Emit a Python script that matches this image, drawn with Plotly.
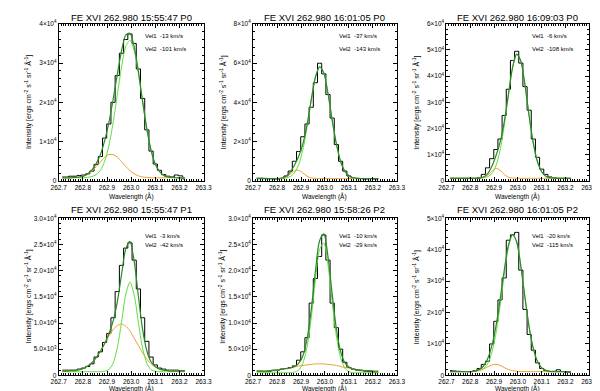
import plotly.graph_objects as go

# wavelength bin centres (A), shared by all six spectra
wavelength = [262.7150, 262.7325, 262.7500, 262.7675, 262.7850, 262.8025, 262.8200, 262.8375,
              262.8550, 262.8725, 262.8900, 262.9075, 262.9250, 262.9425, 262.9600, 262.9775,
              262.9950, 263.0125, 263.0300, 263.0475, 263.0650, 263.0825, 263.1000, 263.1175,
              263.1350, 263.1525, 263.1700, 263.1875, 263.2050, 263.2225]

# intensities in units of 1e4 ergs cm-2 s-1 sr-1 A-1
# panel 1 : 15:55:47 P0
hist_p1 = [0.10, 0.10, 0.12, 0.12, 0.14, 0.15, 0.18, 0.25, 0.42, 0.62, 1.09, 1.45, 2.00, 2.68, 3.25,
           3.60, 3.74, 3.50, 2.85, 2.10, 1.30, 0.76, 0.43, 0.27, 0.16, 0.12, 0.10, 0.15, 0.13, 0.05]
fit_p1 = [0.08, 0.08, 0.08, 0.09, 0.10, 0.12, 0.18, 0.28, 0.44, 0.67, 1.02, 1.48, 2.06, 2.71, 3.30,
          3.71, 3.76, 3.42, 2.79, 2.03, 1.33, 0.78, 0.43, 0.24, 0.14, 0.10, 0.09, 0.08, 0.08, 0.08]
comp1_p1 = [0.08, 0.08, 0.08, 0.08, 0.08, 0.08, 0.09, 0.11, 0.16, 0.27, 0.50, 0.89, 1.47, 2.18, 2.89,
            3.42, 3.58, 3.32, 2.74, 2.01, 1.32, 0.78, 0.43, 0.24, 0.14, 0.10, 0.09, 0.08, 0.08, 0.08]
comp2_p1 = [0.08, 0.08, 0.08, 0.09, 0.10, 0.12, 0.17, 0.25, 0.36, 0.48, 0.60, 0.67, 0.67, 0.61, 0.49,
            0.37, 0.26, 0.18, 0.13, 0.10, 0.09, 0.08, 0.08, 0.08, 0.08, 0.08, 0.08, 0.08, 0.08, 0.08]

# panel 2 : 16:01:05 P0
hist_p2 = [0.14, 0.14, 0.13, 0.12, 0.10, 0.10, 0.12, 0.25, 0.50, 1.00, 1.50, 2.25, 2.90, 3.75, 5.00,
           5.99, 5.45, 4.40, 3.20, 1.85, 1.00, 0.50, 0.25, 0.15, 0.13, 0.12, 0.10, 0.12, 0.10, 0.10]
fit_p2 = [0.12, 0.12, 0.12, 0.12, 0.12, 0.12, 0.15, 0.24, 0.45, 0.80, 1.24, 1.87, 2.85, 4.12, 5.28,
          5.81, 5.50, 4.45, 3.10, 1.88, 1.00, 0.50, 0.26, 0.16, 0.13, 0.12, 0.12, 0.12, 0.12, 0.12]
comp1_p2 = [0.12, 0.12, 0.12, 0.12, 0.12, 0.12, 0.13, 0.15, 0.22, 0.41, 0.82, 1.58, 2.73, 4.09, 5.27,
            5.81, 5.50, 4.45, 3.10, 1.88, 1.00, 0.50, 0.26, 0.16, 0.13, 0.12, 0.12, 0.12, 0.12, 0.12]
comp2_p2 = [0.12, 0.12, 0.12, 0.12, 0.12, 0.12, 0.14, 0.21, 0.35, 0.51, 0.54, 0.41, 0.24, 0.15, 0.13,
            0.12, 0.12, 0.12, 0.12, 0.12, 0.12, 0.12, 0.12, 0.12, 0.12, 0.12, 0.12, 0.12, 0.12, 0.12]

# panel 3 : 16:09:03 P0
hist_p3 = [0.10, 0.10, 0.10, 0.10, 0.10, 0.10, 0.10, 0.12, 0.25, 0.50, 0.85, 1.20, 1.60, 2.50, 3.50,
           4.60, 4.95, 4.50, 3.60, 2.70, 1.60, 0.90, 0.45, 0.25, 0.15, 0.12, 0.10, 0.10, 0.10, 0.10]
fit_p3 = [0.10, 0.10, 0.10, 0.10, 0.10, 0.10, 0.10, 0.10, 0.15, 0.27, 0.54, 0.95, 1.46, 2.24, 3.29,
          4.32, 4.84, 4.57, 3.65, 2.47, 1.43, 0.73, 0.35, 0.18, 0.12, 0.11, 0.10, 0.10, 0.10, 0.10]
comp1_p3 = [0.10, 0.10, 0.10, 0.10, 0.10, 0.10, 0.10, 0.10, 0.12, 0.16, 0.27, 0.57, 1.15, 2.09, 3.25,
            4.31, 4.84, 4.57, 3.65, 2.47, 1.43, 0.73, 0.35, 0.18, 0.12, 0.11, 0.10, 0.10, 0.10, 0.10]
comp2_p3 = [0.10, 0.10, 0.10, 0.10, 0.10, 0.10, 0.10, 0.10, 0.13, 0.21, 0.37, 0.48, 0.41, 0.25, 0.14,
            0.11, 0.10, 0.10, 0.10, 0.10, 0.10, 0.10, 0.10, 0.10, 0.10, 0.10, 0.10, 0.10, 0.10, 0.10]

# panel 4 : 15:55:47 P1
hist_p4 = [0.10, 0.10, 0.10, 0.10, 0.12, 0.14, 0.17, 0.22, 0.35, 0.45, 0.63, 0.80, 1.10, 1.60, 2.10,
           2.43, 2.53, 2.20, 1.65, 1.10, 0.65, 0.35, 0.20, 0.14, 0.12, 0.10, 0.10, 0.10, 0.09, 0.09]
fit_p4 = [0.08, 0.08, 0.09, 0.09, 0.11, 0.13, 0.18, 0.24, 0.34, 0.46, 0.61, 0.79, 1.03, 1.40, 1.92,
          2.41, 2.56, 2.18, 1.51, 0.88, 0.47, 0.26, 0.17, 0.12, 0.10, 0.09, 0.08, 0.08, 0.08, 0.08]
comp1_p4 = [0.07, 0.07, 0.07, 0.07, 0.07, 0.07, 0.07, 0.07, 0.07, 0.07, 0.08, 0.11, 0.23, 0.52, 1.01,
            1.54, 1.78, 1.54, 1.01, 0.52, 0.23, 0.11, 0.08, 0.07, 0.07, 0.07, 0.07, 0.07, 0.07, 0.07]
comp2_p4 = [0.08, 0.08, 0.09, 0.09, 0.11, 0.13, 0.18, 0.24, 0.34, 0.46, 0.60, 0.75, 0.87, 0.95, 0.98,
            0.94, 0.85, 0.71, 0.57, 0.43, 0.31, 0.22, 0.16, 0.12, 0.10, 0.09, 0.08, 0.08, 0.08, 0.08]

# panel 5 : 15:58:26 P2
hist_p5 = [0.08, 0.08, 0.07, 0.08, 0.09, 0.10, 0.12, 0.13, 0.15, 0.18, 0.29, 0.45, 0.72, 1.38, 1.85,
           2.27, 2.68, 2.20, 1.38, 0.91, 0.50, 0.25, 0.15, 0.12, 0.10, 0.09, 0.08, 0.07, 0.06, 0.06]
fit_p5 = [0.08, 0.08, 0.08, 0.09, 0.10, 0.10, 0.12, 0.13, 0.14, 0.17, 0.23, 0.37, 0.69, 1.25, 1.99,
          2.57, 2.70, 2.27, 1.55, 0.89, 0.46, 0.24, 0.16, 0.12, 0.11, 0.10, 0.09, 0.09, 0.08, 0.08]
comp1_p5 = [0.05, 0.05, 0.05, 0.05, 0.05, 0.05, 0.05, 0.05, 0.05, 0.06, 0.10, 0.23, 0.54, 1.09, 1.82,
            2.40, 2.53, 2.11, 1.40, 0.75, 0.34, 0.14, 0.07, 0.05, 0.05, 0.05, 0.05, 0.05, 0.05, 0.05]
comp2_p5 = [0.08, 0.08, 0.08, 0.09, 0.10, 0.10, 0.12, 0.13, 0.14, 0.16, 0.18, 0.19, 0.20, 0.21, 0.22,
            0.22, 0.22, 0.21, 0.20, 0.19, 0.17, 0.15, 0.14, 0.12, 0.11, 0.10, 0.09, 0.09, 0.08, 0.08]

# panel 6 : 16:01:05 P2
hist_p6 = [0.15, 0.14, 0.13, 0.12, 0.12, 0.12, 0.15, 0.22, 0.35, 0.45, 1.00, 1.72, 2.40, 3.10, 4.30,
           4.47, 4.55, 3.35, 2.10, 1.30, 0.80, 0.40, 0.22, 0.15, 0.12, 0.13, 0.18, 0.12, 0.10, 0.10]
fit_p6 = [0.12, 0.12, 0.12, 0.12, 0.12, 0.12, 0.14, 0.19, 0.29, 0.52, 0.92, 1.54, 2.39, 3.33, 4.13,
          4.49, 4.25, 3.47, 2.47, 1.53, 0.85, 0.44, 0.24, 0.16, 0.13, 0.12, 0.12, 0.12, 0.12, 0.12]
comp1_p6 = [0.12, 0.12, 0.12, 0.12, 0.12, 0.12, 0.13, 0.15, 0.21, 0.37, 0.71, 1.31, 2.19, 3.20, 4.06,
            4.46, 4.24, 3.47, 2.47, 1.53, 0.85, 0.44, 0.24, 0.16, 0.13, 0.12, 0.12, 0.12, 0.12, 0.12]
comp2_p6 = [0.12, 0.12, 0.12, 0.12, 0.12, 0.12, 0.13, 0.16, 0.20, 0.27, 0.33, 0.35, 0.32, 0.25, 0.19,
            0.15, 0.13, 0.12, 0.12, 0.12, 0.12, 0.12, 0.12, 0.12, 0.12, 0.12, 0.12, 0.12, 0.12, 0.12]

titles = ["FE XVI 262.980 15:55:47 P0", "FE XVI 262.980 16:01:05 P0", "FE XVI 262.980 16:09:03 P0",
          "FE XVI 262.980 15:55:47 P1", "FE XVI 262.980 15:58:26 P2", "FE XVI 262.980 16:01:05 P2"]
vel1 = ["-13", "-37", "-6", "-3", "-10", "-20"]
vel2 = ["-101", "-143", "-108", "-42", "-29", "-115"]

x_ticks = [262.7, 262.8, 262.9, 263.0, 263.1, 263.2, 263.3]
x_ticktext = ["262.7", "262.8", "262.9", "263.0", "263.1", "263.2", "263.3"]

yt_1e4_4 = [0, 1, 2, 3, 4]
yt_1e4_8 = [0, 2, 4, 6, 8]
yt_1e4_6 = [0, 1, 2, 3, 4, 5, 6]
yt_half_3 = [0, 0.5, 1.0, 1.5, 2.0, 2.5, 3.0]
yt_1e4_5 = [0, 1, 2, 3, 4, 5]
txt_int = lambda v: "0" if v == 0 else f"{v}×10<sup>4</sup>"
txt_half = ["0", "5.0×10<sup>3</sup>", "1.0×10<sup>4</sup>", "1.5×10<sup>4</sup>",
            "2.0×10<sup>4</sup>", "2.5×10<sup>4</sup>", "3.0×10<sup>4</sup>"]

panels = [
    (hist_p1, fit_p1, comp1_p1, comp2_p1, yt_1e4_4, [txt_int(v) for v in yt_1e4_4], 4, 0.2),
    (hist_p2, fit_p2, comp1_p2, comp2_p2, yt_1e4_8, [txt_int(v) for v in yt_1e4_8], 8, 0.4),
    (hist_p3, fit_p3, comp1_p3, comp2_p3, yt_1e4_6, [txt_int(v) for v in yt_1e4_6], 6, 0.2),
    (hist_p4, fit_p4, comp1_p4, comp2_p4, yt_half_3, txt_half, 3, 0.1),
    (hist_p5, fit_p5, comp1_p5, comp2_p5, yt_half_3, txt_half, 3, 0.1),
    (hist_p6, fit_p6, comp1_p6, comp2_p6, yt_1e4_5, [txt_int(v) for v in yt_1e4_5], 5, 0.2),
]

W, H = 600, 391
col_px = [(44, 193), (244, 392), (443, 590)]
row_px = [(12, 172), (210, 370)]
FONT = "Liberation Sans, Arial, sans-serif"

fig = go.Figure()
annotations = []
layout = dict(width=W, height=H, margin=dict(l=0, r=0, t=0, b=0),
              paper_bgcolor="white", plot_bgcolor="white", showlegend=False,
              font=dict(family=FONT, color="black", size=7))

for k, (hist, fit, c1, c2, ytv, ytt, ymax, yminor) in enumerate(panels):
    n = k + 1
    row, col = divmod(k, 3)
    xa = "x" if n == 1 else f"x{n}"
    ya = "y" if n == 1 else f"y{n}"

    fig.add_trace(go.Scatter(x=wavelength, y=hist, mode="lines", xaxis=xa, yaxis=ya,
                             line=dict(color="black", width=1, shape="hvh")))
    fig.add_trace(go.Scatter(x=wavelength, y=c1, mode="lines", xaxis=xa, yaxis=ya,
                             line=dict(color="#5ee03a", width=1, shape="spline", smoothing=0.8)))
    fig.add_trace(go.Scatter(x=wavelength, y=c2, mode="lines", xaxis=xa, yaxis=ya,
                             line=dict(color="#f0a030", width=1, shape="spline", smoothing=0.8)))
    fig.add_trace(go.Scatter(x=wavelength, y=fit, mode="lines", xaxis=xa, yaxis=ya,
                             line=dict(color="#2a8a2a", width=1.2, shape="spline", smoothing=0.8)))

    x0, x1 = col_px[col]
    y0, y1 = row_px[row]
    xdom = [x0 / W, x1 / W]
    ydom = [1 - y1 / H, 1 - y0 / H]

    layout[f"xaxis{'' if n == 1 else n}"] = dict(
        domain=xdom, anchor=ya, range=[262.7, 263.3], tickvals=x_ticks, ticktext=x_ticktext,
        ticks="inside", ticklen=4, tickwidth=0.8, tickcolor="black",
        showline=True, linecolor="black", linewidth=1, mirror="ticks",
        showgrid=False, zeroline=False, tickfont=dict(size=6.5),
        minor=dict(dtick=0.01, tick0=262.7, ticks="inside", ticklen=2, tickcolor="black", tickwidth=0.5))
    layout[f"yaxis{'' if n == 1 else n}"] = dict(
        domain=ydom, anchor=xa, range=[0, ymax], tickvals=ytv, ticktext=ytt,
        ticks="inside", ticklen=4, tickwidth=0.8, tickcolor="black",
        showline=True, linecolor="black", linewidth=1, mirror="ticks",
        showgrid=False, zeroline=False, tickfont=dict(size=6.5),
        minor=dict(dtick=yminor, tick0=0, ticks="inside", ticklen=2, tickcolor="black", tickwidth=0.5))

    cx = (x0 + x1) / 2 / W
    # panel title
    annotations.append(dict(text=titles[k], x=cx, y=1 - (6 if row == 0 else 201) / H,
                            xref="paper", yref="paper", showarrow=False, xanchor="center",
                            yanchor="middle", font=dict(size=9.5)))
    # x axis title
    annotations.append(dict(text="Wavelength (Å)", x=cx, y=1 - (188 if row == 0 else 383) / H,
                            xref="paper", yref="paper", showarrow=False, xanchor="center",
                            yanchor="middle", font=dict(size=6.5)))
    # y axis title
    annotations.append(dict(text="Intensity [ergs cm<sup>-2</sup> s<sup>-1</sup> sr<sup>-1</sup> Å<sup>-1</sup>]",
                            x=(x0 - 31) / W, y=(ydom[0] + ydom[1]) / 2, xref="paper", yref="paper",
                            showarrow=False, textangle=-90, xanchor="center", yanchor="middle",
                            font=dict(size=7)))
    # velocities
    vy = (0.92, 0.84) if row == 0 else (0.89, 0.83)
    annotations.append(dict(text=f"Vel1  {vel1[k]} km/s", x=0.585, y=vy[0], xref=f"{xa} domain",
                            yref=f"{ya} domain", showarrow=False, xanchor="left", yanchor="middle",
                            font=dict(size=6)))
    annotations.append(dict(text=f"Vel2  {vel2[k]} km/s", x=0.585, y=vy[1], xref=f"{xa} domain",
                            yref=f"{ya} domain", showarrow=False, xanchor="left", yanchor="middle",
                            font=dict(size=6)))

layout["annotations"] = annotations
fig.update_layout(**layout)
fig.write_html("out.html")
